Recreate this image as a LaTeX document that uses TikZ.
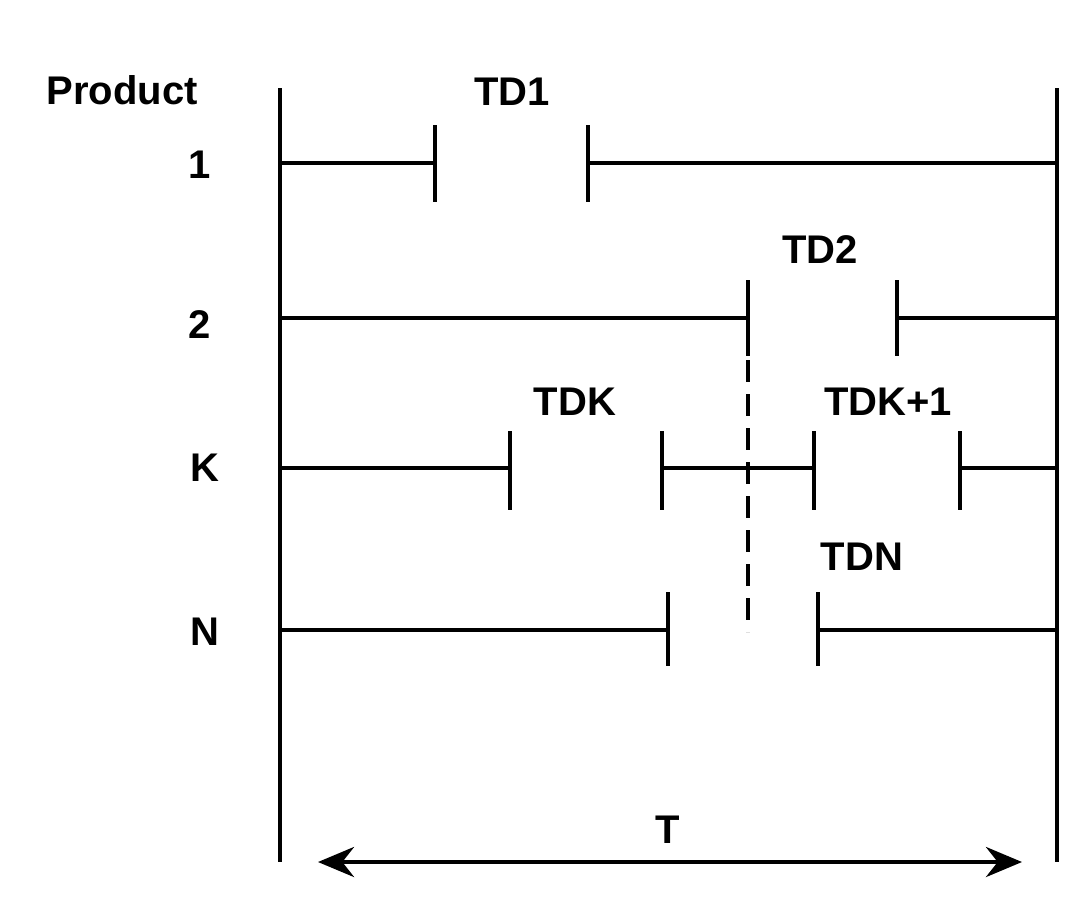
\documentclass[tikz,border=0pt]{standalone}
\usepackage{fontspec}
\setmainfont{Liberation Sans}
\usetikzlibrary{arrows.meta}
\begin{document}
\begin{tikzpicture}[x=1pt,y=-1pt,line width=4.5pt,
  lbl/.style={font=\fontsize{40}{40}\selectfont\bfseries,inner sep=0pt},
  tk/.style={line cap=butt}]
\useasboundingbox (0,0) rectangle (1091,910);
\coordinate (Lt) at (280,88); \coordinate (Lb) at (280,862);
\coordinate (Rt) at (1057,88); \coordinate (Rb) at (1057,862);
\draw (Lt) -- (Lb); \draw (Rt) -- (Rb);
\node[lbl] (prod) at (122,90) {Product};
\node[lbl] (r1) at (200,165) {1};
\node[lbl] (r2) at (200,325) {2};
\node[lbl] (rk) at (205,468) {K};
\node[lbl] (rn) at (205,632) {N};
% row 1
\draw (280,163) -- (435,163); \draw (435,125) -- (435,202);
\draw (588,125) -- (588,202); \draw (588,163) -- (1057,163);
\node[lbl] (td1) at (512,92) {TD1};
% row 2
\draw (280,318) -- (748,318); \draw (748,280) -- (748,356);
\draw (897,280) -- (897,356); \draw (897,318) -- (1057,318);
\node[lbl] (td2) at (820,250) {TD2};
% row K
\draw (280,468) -- (510,468); \draw (510,431) -- (510,510);
\draw (662,431) -- (662,510); \draw (662,468) -- (814,468);
\draw (814,431) -- (814,510); \draw (960,431) -- (960,510);
\draw (960,468) -- (1057,468);
\node[lbl] (tdk) at (575,402) {TDK};
\node[lbl] (tdk1) at (888,402) {TDK+1};
% row N
\draw (280,630) -- (668,630); \draw (668,592) -- (668,666);
\draw (818,592) -- (818,666); \draw (818,630) -- (1057,630);
\node[lbl] (tdn) at (862,557) {TDN};
% dashed
\draw[dash pattern=on 22pt off 12pt] (748,360) -- (748,632);
% T arrow
\coordinate (a1) at (318,862); \coordinate (a2) at (1022,862);
\draw[{Stealth[length=36pt,width=30pt]}-{Stealth[length=36pt,width=30pt]}] (a1) -- (a2);
\node[lbl] (T) at (668,830) {T};
\end{tikzpicture}
\end{document}
